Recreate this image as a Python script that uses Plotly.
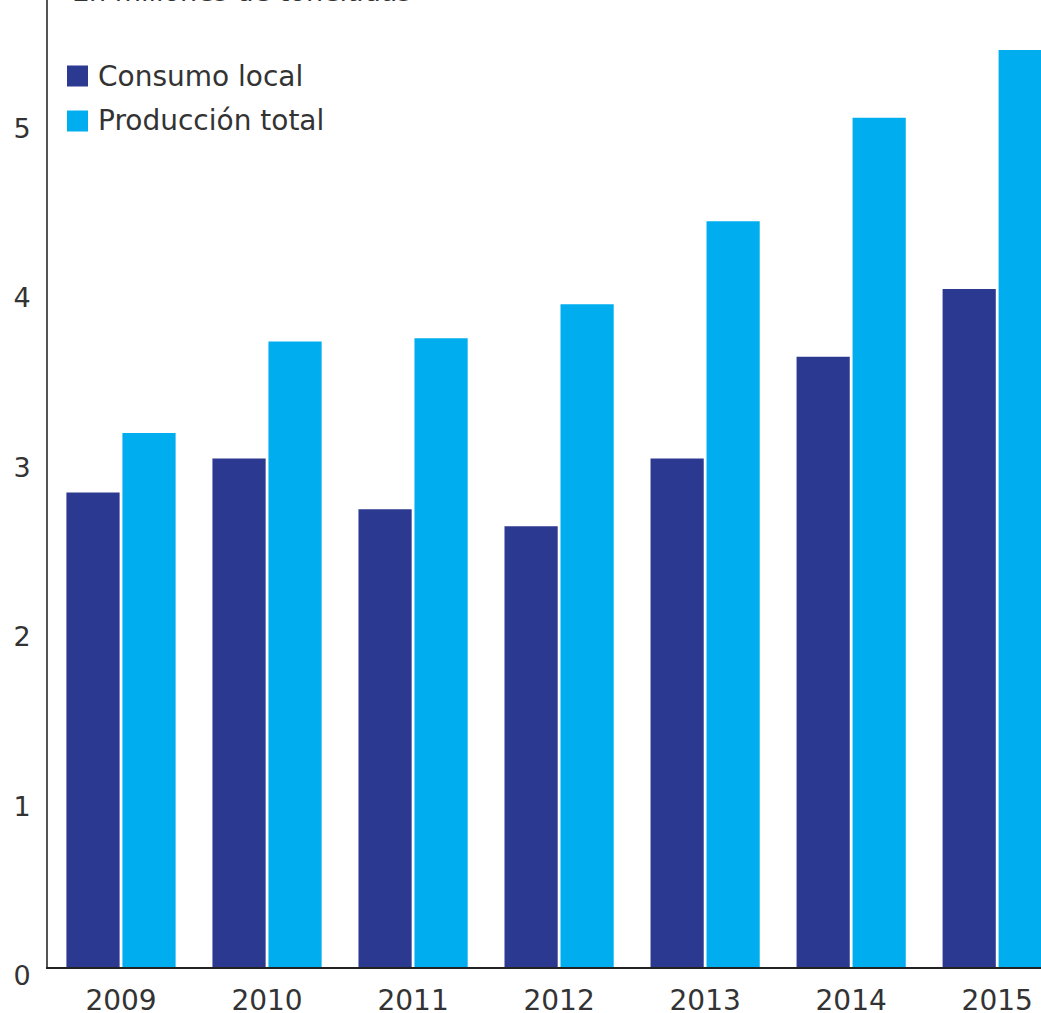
import plotly.graph_objects as go

years = [2009, 2010, 2011, 2012, 2013, 2014, 2015]
consumo_local = [2.80, 3.00, 2.70, 2.60, 3.00, 3.60, 4.00]
produccion_total = [3.15, 3.69, 3.71, 3.91, 4.40, 5.01, 5.41]
series_names = ["Consumo local", "Producción total"]
series_colors = ["#2B3990", "#00AEEF"]
y_ticks = [0, 1, 2, 3, 4, 5]
title_text = "En millones de toneladas"

W, H = 1041, 1013
ML, MR, MT, MB = 48, 0, 0, 46
FONT = "DejaVu Sans"
TXT = "#333333"

fig = go.Figure()
for name, vals, col in zip(series_names, [consumo_local, produccion_total], series_colors):
    fig.add_trace(go.Bar(x=years, y=vals, name=name, marker=dict(color=col, line=dict(width=0)),
                         showlegend=False))

plot_w = W - ML - MR
plot_h = H - MT - MB

def px2paper_x(px):
    return (px - ML) / plot_w

def px2paper_y(py):
    return (H - MB - py) / plot_h

shapes = []
annotations = []
# manual legend
for i, (name, col) in enumerate(zip(series_names, series_colors)):
    cy = 76 + i * 45
    shapes.append(dict(type="rect", xref="paper", yref="paper",
                       x0=px2paper_x(67), x1=px2paper_x(88),
                       y0=px2paper_y(cy + 10.5), y1=px2paper_y(cy - 10.5),
                       fillcolor=col, line=dict(width=0)))
    annotations.append(dict(text=name, xref="paper", yref="paper",
                            x=px2paper_x(96), y=px2paper_y(cy), xanchor="left", yanchor="middle",
                            showarrow=False, font=dict(family=FONT, size=28, color=TXT)))

annotations.append(dict(text=title_text, xref="paper", yref="paper", x=px2paper_x(70), y=1,
                        xanchor="left", yanchor="bottom", yshift=-9, showarrow=False,
                        font=dict(family=FONT, size=27, color=TXT)))

fig.update_layout(
    width=W, height=H,
    margin=dict(l=ML, r=MR, t=MT, b=MB, pad=0, autoexpand=False),
    paper_bgcolor="white", plot_bgcolor="white",
    barmode="group", bargap=0.233, bargroupgap=0.05,
    shapes=shapes, annotations=annotations,
    font=dict(family=FONT, color=TXT),
)
fig.update_xaxes(range=[2008.5, 2015.30], tickvals=years, ticktext=[str(y) for y in years],
                 showgrid=False, zeroline=False, showline=True, linecolor="#222222", linewidth=2,
                 ticks="", tickfont=dict(family=FONT, size=28, color=TXT), ticklabelstandoff=7,
                 automargin=False)
fig.update_yaxes(range=[0, (H - MB) / 169.5], tickvals=y_ticks, showgrid=False, zeroline=False,
                 showline=True, linecolor="#555555", linewidth=2, ticks="",
                 tickfont=dict(family=FONT, size=27, color=TXT), ticklabelshift=9,
                 ticklabelstandoff=10, automargin=False)

fig.write_html("out.html", config={"displayModeBar": False},
               post_script="document.body.style.margin='0';document.body.style.overflow='hidden';")
